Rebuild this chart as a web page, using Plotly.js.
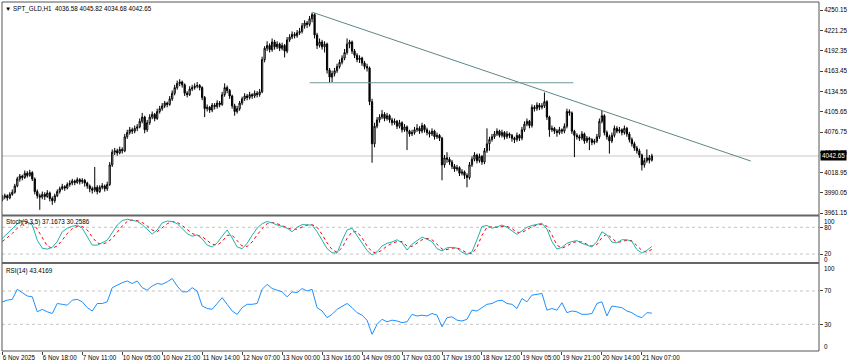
<!DOCTYPE html>
<html><head><meta charset="utf-8">
<script src="https://cdn.plot.ly/plotly-3.0.1.min.js"></script>
<style>html,body{margin:0;padding:0;background:#fff;}#chart{width:850px;height:364px;}</style>
</head><body><div id="chart"></div>
<script>
const symbolLabel = '\u25BC SPT_GLD,H1\u00a0\u00a04036.58 4045.82 4034.68 4042.65';
const stochLabel = 'Stoch(9,3,5) 37.1673 30.2586';
const rsiLabel = 'RSI(14) 43.4169';

const openP = [3980,3984,3986,3983,3988,3991,4000,4010,4014,4012,
4018,4015,4019,4010,3992,3986,3984,3988,3985,3990,
3982,3979,3986,3992,3996,3999,3997,4002,4004,4007,
4005,4009,4006,4008,4004,4000,3996,3994,3998,3992,
3998,4000,3996,4002,4030,4048,4050,4047,4052,4050,
4070,4076,4080,4078,4082,4084,4092,4098,4080,4090,
4098,4102,4096,4106,4110,4114,4118,4116,4124,4132,
4140,4146,4148,4144,4132,4130,4138,4140,4142,4143,
4140,4126,4110,4112,4108,4115,4113,4118,4116,4130,
4140,4136,4128,4114,4106,4110,4118,4124,4128,4126,
4130,4128,4132,4130,4134,4180,4196,4200,4194,4205,
4198,4202,4196,4200,4192,4208,4212,4216,4214,4218,
4220,4228,4232,4230,4238,4244,4215,4200,4205,4198,
4202,4165,4155,4160,4164,4170,4176,4182,4190,4202,
4205,4192,4186,4180,4182,4175,4170,4168,4120,4060,
4085,4094,4098,4102,4096,4100,4094,4090,4092,4085,
4090,4080,4084,4078,4074,4076,4080,4082,4078,4086,
4080,4076,4074,4078,4070,4072,4068,4030,4040,4038,
4034,4028,4024,4026,4018,4020,4015,4012,4030,4038,
4044,4036,4042,4034,4050,4060,4066,4070,4074,4078,
4072,4076,4070,4074,4072,4068,4066,4072,4068,4080,
4088,4092,4086,4112,4110,4115,4112,4114,4120,4098,
4080,4082,4078,4076,4080,4078,4085,4106,4104,4078,
4072,4070,4068,4074,4064,4068,4066,4062,4064,4070,
4092,4100,4076,4070,4064,4072,4082,4078,4080,4076,
4082,4074,4066,4060,4054,4050,4044,4030,4036,4040,
4036.58];
const highP = [3987,3989,3988,3991,3995,4003,4013,4017,4016,4022,
4021,4023,4021,4012,3995,3989,3992,3991,3994,3992,
3985,3989,3995,3999,4003,4001,4005,4008,4010,4009,
4012,4011,4011,4010,4006,4002,3999,4027,4001,4001,
4004,4002,4006,4034,4052,4054,4053,4056,4055,4074,
4080,4084,4083,4086,4088,4096,4104,4100,4094,4102,
4106,4104,4110,4114,4118,4121,4120,4128,4136,4144,
4150,4152,4150,4146,4135,4142,4144,4146,4148,4145,
4142,4128,4116,4114,4118,4118,4122,4121,4134,4146,
4143,4138,4130,4117,4114,4121,4127,4132,4131,4134,
4132,4136,4135,4138,4184,4199,4206,4203,4210,4208,
4206,4204,4204,4202,4212,4216,4220,4219,4222,4225,
4232,4236,4235,4242,4247,4246,4218,4210,4208,4206,
4204,4168,4164,4168,4174,4180,4186,4195,4210,4208,
4207,4195,4189,4186,4184,4178,4174,4170,4124,4090,
4098,4102,4108,4105,4104,4102,4097,4096,4094,4094,
4092,4088,4086,4080,4080,4084,4088,4085,4090,4088,
4083,4079,4082,4080,4076,4074,4070,4044,4048,4041,
4037,4031,4030,4028,4024,4022,4018,4034,4042,4048,
4046,4046,4044,4054,4082,4070,4074,4078,4082,4080,
4080,4078,4078,4076,4074,4070,4076,4074,4084,4092,
4096,4094,4116,4115,4119,4118,4118,4133,4122,4100,
4086,4084,4081,4084,4082,4089,4110,4109,4106,4080,
4075,4073,4078,4076,4071,4070,4068,4067,4074,4096,
4108,4102,4079,4073,4076,4086,4085,4084,4082,4086,
4084,4077,4069,4063,4057,4053,4046,4040,4052,4044,
4045.82];
const lowP = [3978,3981,3979,3981,3986,3989,3998,4006,4008,4010,
4012,4013,4007,3988,3982,3966,3981,3980,3983,3978,
3973,3976,3984,3989,3994,3993,3995,3999,4001,4001,
4003,4002,4003,3999,3996,3991,3989,3991,3988,3990,
3995,3992,3993,4000,4027,4044,4043,4045,4046,4048,
4067,4073,4074,4075,4078,4082,4089,4075,4077,4087,
4095,4092,4094,4103,4107,4111,4112,4114,4121,4129,
4137,4142,4140,4128,4126,4128,4135,4137,4139,4136,
4122,4098,4106,4104,4105,4109,4110,4112,4114,4127,
4132,4124,4110,4100,4103,4107,4115,4121,4122,4123,
4124,4125,4126,4127,4132,4176,4192,4190,4191,4194,
4195,4192,4193,4183,4189,4205,4209,4210,4211,4215,
4217,4224,4225,4227,4233,4210,4195,4197,4194,4190,
4160,4147,4148,4156,4161,4167,4173,4179,4187,4196,
4188,4182,4176,4175,4171,4166,4163,4115,4033,4055,
4082,4090,4095,4092,4093,4090,4086,4087,4081,4082,
4076,4077,4051,4070,4071,4073,4077,4074,4075,4076,
4072,4069,4071,4066,4067,4064,4008,4026,4033,4030,
4024,4020,4021,4014,4015,4010,3998,4009,4027,4035,
4032,4033,4030,4031,4047,4050,4063,4067,4071,4069,
4069,4066,4067,4068,4063,4061,4063,4064,4065,4077,
4085,4082,4083,4106,4107,4108,4109,4111,4094,4070,
4077,4074,4070,4073,4074,4075,4082,4100,4074,4041,
4066,4064,4065,4060,4061,4051,4058,4059,4061,4067,
4089,4072,4066,4046,4061,4069,4075,4075,4072,4073,
4070,4062,4056,4050,4046,4040,4022,4026,4033,4032,
4034.68];
const closeP = [3984,3986,3983,3988,3991,4000,4010,4014,4012,4018,
4015,4019,4010,3992,3986,3984,3988,3985,3990,3982,
3979,3986,3992,3996,3999,3997,4002,4004,4007,4005,
4009,4006,4008,4004,4000,3996,3994,3998,3992,3998,
4000,3996,4002,4030,4048,4050,4047,4052,4050,4070,
4076,4080,4078,4082,4084,4092,4098,4080,4090,4098,
4102,4096,4106,4110,4114,4118,4116,4124,4132,4140,
4146,4148,4144,4132,4130,4138,4140,4142,4143,4140,
4126,4110,4112,4108,4115,4113,4118,4116,4130,4140,
4136,4128,4114,4106,4110,4118,4124,4128,4126,4130,
4128,4132,4130,4134,4180,4196,4200,4194,4205,4198,
4202,4196,4200,4192,4208,4212,4216,4214,4218,4220,
4228,4232,4230,4238,4244,4215,4200,4205,4198,4202,
4165,4155,4160,4164,4170,4176,4182,4190,4202,4205,
4192,4186,4180,4182,4175,4170,4168,4120,4060,4085,
4094,4098,4102,4096,4100,4094,4090,4092,4085,4090,
4080,4084,4078,4074,4076,4080,4082,4078,4086,4080,
4076,4074,4078,4070,4072,4068,4030,4040,4038,4034,
4028,4024,4026,4018,4020,4015,4012,4030,4038,4044,
4036,4042,4034,4050,4060,4066,4070,4074,4078,4072,
4076,4070,4074,4072,4068,4066,4072,4068,4080,4088,
4092,4086,4112,4110,4115,4112,4114,4120,4098,4080,
4082,4078,4076,4080,4078,4085,4106,4104,4078,4072,
4070,4068,4074,4064,4068,4066,4062,4064,4070,4092,
4100,4076,4070,4064,4072,4082,4078,4080,4076,4082,
4074,4066,4060,4054,4050,4044,4030,4036,4040,4036.58,
4042.65];

// indicator values, one every 2 bars
const indicatorStep = 2;
const stochK = [55,66,78,88,94,92,85,51,33,31,
35,48,70,78,82,85,78,60,40,40,
46,51,68,85,95,98,96,93,86,75,
65,74,90,94,93,88,78,66,60,63,
54,40,36,45,60,74,56,36,32,44,
62,78,88,93,90,85,82,78,70,80,
86,86,85,70,50,32,23,22,50,74,
78,62,44,28,18,25,38,44,47,52,
45,29,42,50,58,53,48,32,27,34,
35,33,24,19,25,52,82,84,78,81,
85,80,72,64,72,80,84,86,89,76,
48,31,35,44,48,50,44,40,36,48,
70,63,47,45,52,52,48,30,22,28,
37.17];
const stochD = [48,56,66,78,87,91,90,76,56,38,
33,38,51,66,77,82,82,74,58,45,
42,46,55,69,83,93,96,95,91,83,
74,70,78,88,93,91,84,75,66,62,
59,50,42,40,48,62,62,50,38,37,
47,63,77,88,91,88,84,80,75,76,
81,85,86,80,64,45,30,24,34,55,
70,70,56,38,25,22,29,38,44,48,
48,38,37,44,52,55,52,42,31,30,
33,34,29,22,21,35,62,80,81,80,
82,82,77,69,68,75,81,85,87,82,
63,40,33,38,45,48,47,42,38,41,
57,65,56,46,48,51,50,40,28,24,
30.26];
const rsi = [57,59,60,72,68,64,63,45,48,45,
43,55,54,53,59,60,57,50,46,55,
55,57,74,77,80,82,79,82,74,71,
76,79,78,81,85,76,69,69,74,70,
52,49,48,55,62,54,46,42,50,54,
54,55,72,78,73,71,69,63,69,68,
73,70,72,50,46,38,42,48,52,55,
50,44,41,35,18,30,36,33,35,34,
32,33,42,40,41,40,43,41,27,38,
39,35,34,36,47,46,50,54,55,58,
59,55,54,49,61,57,65,66,67,47,
49,47,56,44,46,45,42,42,43,55,
57,40,52,51,50,46,44,40,38,44,
43.42];

const xTickLabels = ['6 Nov 2025','6 Nov 18:00','7 Nov 11:00','10 Nov 05:00','10 Nov 21:00','11 Nov 14:00','12 Nov 07:00','13 Nov 00:00','13 Nov 16:00','14 Nov 09:00','17 Nov 03:00','17 Nov 19:00','18 Nov 12:00','19 Nov 05:00','19 Nov 21:00','20 Nov 14:00','21 Nov 07:00'];
const barsPerTick = 16;
const priceTickLabels = ['4250.15','4221.25','4192.35','4163.45','4134.55','4105.65','4076.75','4047.85','4018.95','3990.05','3961.15'];
const stochTickLabels = ['20','80'];
const stochEdgeLabels = ['100','0'];
const rsiTickLabels = ['30','70'];
const rsiEdgeLabels = ['100','0'];
const stochLevels = [20, 80];
const rsiLevels = [30, 70];

// drawn objects (bar index, price)
const trendX = [124.2, 299.6];
const trendY = [4247.2, 4035.4];
const levelX = [123, 228.6];
const levelY = [4146.9, 4146.9];

const barIdx = closeP.map((_, i) => i);
const indIdx = stochK.map((_, k) => k * indicatorStep);
const lastClose = closeP[closeP.length - 1];

const FONT = 'Liberation Sans, Arial, sans-serif';
const FS = 6.3;

const traces = [
  {type:'candlestick', x: barIdx, open: openP, high: highP, low: lowP, close: closeP,
   xaxis:'x', yaxis:'y', whiskerwidth:0,
   increasing:{line:{color:'#000', width:1}, fillcolor:'#ffffff'},
   decreasing:{line:{color:'#000', width:1}, fillcolor:'#000000'},
   hoverinfo:'skip', showlegend:false},
  {type:'scatter', mode:'lines', x: trendX, y: trendY, xaxis:'x', yaxis:'y',
   line:{color:'#5f8686', width:1}, hoverinfo:'skip', showlegend:false},
  {type:'scatter', mode:'lines', x: levelX, y: levelY, xaxis:'x', yaxis:'y',
   line:{color:'#6f9999', width:1}, hoverinfo:'skip', showlegend:false},
  {type:'scatter', mode:'lines', x: indIdx, y: stochD, xaxis:'x', yaxis:'y2',
   line:{color:'#ff0000', width:1, dash:'dot'}, hoverinfo:'skip', showlegend:false},
  {type:'scatter', mode:'lines', x: indIdx, y: stochK, xaxis:'x', yaxis:'y2',
   line:{color:'#20b2aa', width:1}, hoverinfo:'skip', showlegend:false},
  {type:'scatter', mode:'lines', x: indIdx, y: rsi, xaxis:'x', yaxis:'y3',
   line:{color:'#1e90ff', width:1}, hoverinfo:'skip', showlegend:false}
];

const mainDom = [0.3883, 1];
const stochDom = [0.2521, 0.3883];
const rsiDom = [0, 0.2521];

const yCommon = {side:'right', anchor:'x', showgrid:false, zeroline:false, showline:false,
  ticks:'outside', ticklen:3, tickcolor:'#444', tickfont:{family:FONT, size:FS, color:'#000'}, fixedrange:true};

const shapes = [
  {type:'line', xref:'paper', yref:'y', x0:0, x1:1, y0:lastClose, y1:lastClose, line:{color:'#c8c8c8', width:1}, layer:'below'},
  ...stochLevels.map(v => ({type:'line', xref:'paper', yref:'y2', x0:0, x1:1, y0:v, y1:v, line:{color:'#c4c4c4', width:1, dash:'dot'}, layer:'below'})),
  ...rsiLevels.map(v => ({type:'line', xref:'paper', yref:'y3', x0:0, x1:1, y0:v, y1:v, line:{color:'#c4c4c4', width:1, dash:'dot'}, layer:'below'})),
  {type:'rect', xref:'paper', yref:'paper', x0:0, x1:1, y0:0, y1:1, line:{color:'#555', width:1}},
  {type:'line', xref:'paper', yref:'paper', x0:0, x1:1, y0:mainDom[0], y1:mainDom[0], line:{color:'#666', width:2}},
  {type:'line', xref:'paper', yref:'paper', x0:0, x1:1, y0:stochDom[0], y1:stochDom[0], line:{color:'#666', width:2}}
];

const af = {family:FONT, size:FS, color:'#000'};
const annotations = [
  {xref:'paper', yref:'paper', x:0, y:1, xanchor:'left', yanchor:'top', xshift:1, yshift:-1, text:symbolLabel, showarrow:false, font:af},
  {xref:'paper', yref:'paper', x:0, y:stochDom[1], xanchor:'left', yanchor:'top', xshift:2, yshift:-1, text:stochLabel, showarrow:false, font:af},
  {xref:'paper', yref:'paper', x:0, y:rsiDom[1], xanchor:'left', yanchor:'top', xshift:2, yshift:-2, text:rsiLabel, showarrow:false, font:af},
  {xref:'paper', yref:'y2', x:1, y:100, xanchor:'left', yanchor:'middle', xshift:3, yshift:-3, text:stochEdgeLabels[0], showarrow:false, font:af},
  {xref:'paper', yref:'y2', x:1, y:0, xanchor:'left', yanchor:'middle', xshift:3, yshift:3, text:stochEdgeLabels[1], showarrow:false, font:af},
  {xref:'paper', yref:'y3', x:1, y:100, xanchor:'left', yanchor:'middle', xshift:3, yshift:-2, text:rsiEdgeLabels[0], showarrow:false, font:af},
  {xref:'paper', yref:'y3', x:1, y:0, xanchor:'left', yanchor:'middle', xshift:3, yshift:3, text:rsiEdgeLabels[1], showarrow:false, font:af},
  {xref:'paper', yref:'y', x:1, y:lastClose, xanchor:'left', yanchor:'middle', xshift:1, text:lastClose.toFixed(2), showarrow:false,
   font:{family:FONT, size:FS, color:'#fff'}, bgcolor:'#000', borderpad:1}
];

const layout = {
  width:850, height:364,
  margin:{l:2, r:31, t:2, b:13},
  paper_bgcolor:'#fff', plot_bgcolor:'#fff',
  showlegend:false, hovermode:false, dragmode:false,
  xaxis:{domain:[0,1], anchor:'y3', range:[-0.12, 326.9], showgrid:false, zeroline:false, showline:false,
    tickvals: xTickLabels.map((_, k) => k * barsPerTick), ticktext: xTickLabels,
    ticks:'outside', ticklen:3, tickcolor:'#444', tickangle:0, ticklabelposition:'outside right',
    tickfont:{family:FONT, size:FS, color:'#000'}, rangeslider:{visible:false}, fixedrange:true},
  yaxis:Object.assign({}, yCommon, {domain:mainDom, range:[3957.9, 4261.9],
    tickvals: priceTickLabels.map(Number), ticktext: priceTickLabels}),
  yaxis2:Object.assign({}, yCommon, {domain:stochDom, range:[-0.2, 106.5],
    tickvals: stochTickLabels.map(Number), ticktext: stochTickLabels}),
  yaxis3:Object.assign({}, yCommon, {domain:rsiDom, range:[-2.04, 103.6],
    tickvals: rsiTickLabels.map(Number), ticktext: rsiTickLabels}),
  shapes: shapes,
  annotations: annotations
};

Plotly.newPlot('chart', traces, layout, {displayModeBar:false, staticPlot:true});
</script>
</body></html>
